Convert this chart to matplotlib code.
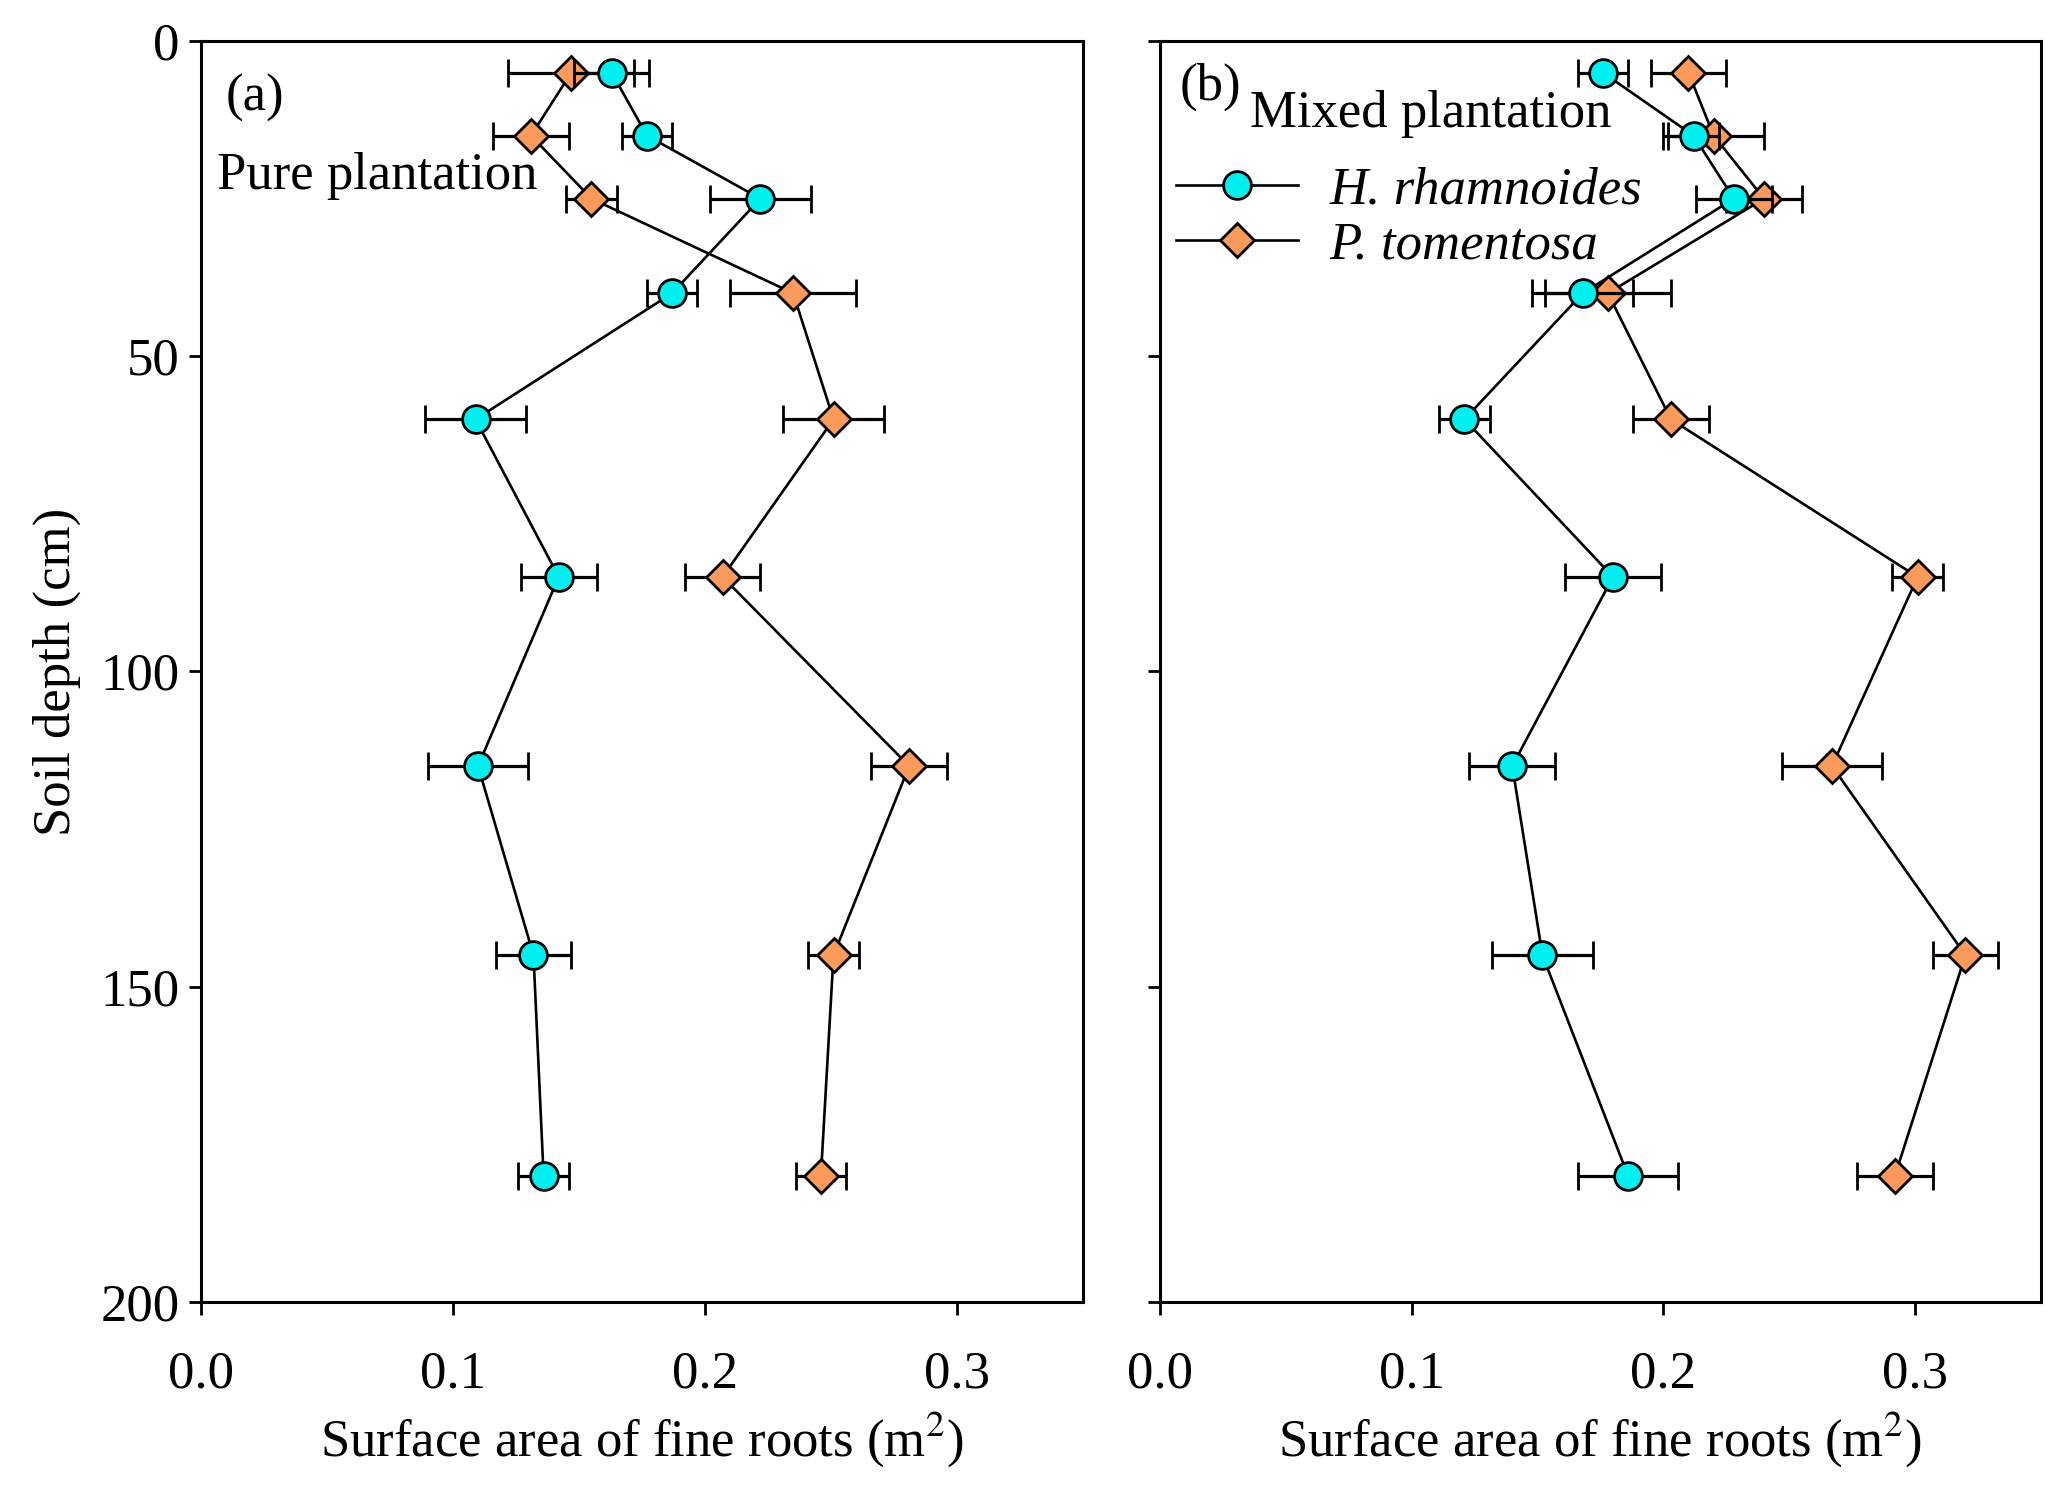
import numpy as np
import matplotlib
matplotlib.use('Agg')
import matplotlib.pyplot as plt
from matplotlib.lines import Line2D

plt.rcParams['font.family'] = ['Liberation Serif', 'DejaVu Serif']
plt.rcParams['mathtext.fontset'] = 'stix'

# soil depth of each sampling layer (cm)
depth = [5, 15, 25, 40, 60, 85, 115, 145, 180]

# (a) pure plantation
pure_hr = [0.163, 0.177, 0.222, 0.187, 0.109, 0.142, 0.110, 0.132, 0.136]
pure_hr_err = [0.015, 0.010, 0.020, 0.010, 0.020, 0.015, 0.020, 0.015, 0.010]
pure_pt = [0.147, 0.131, 0.155, 0.235, 0.251, 0.207, 0.281, 0.251, 0.246]
pure_pt_err = [0.025, 0.015, 0.010, 0.025, 0.020, 0.015, 0.015, 0.010, 0.010]

# (b) mixed plantation
mixed_hr = [0.176, 0.212, 0.228, 0.168, 0.121, 0.180, 0.140, 0.152, 0.186]
mixed_hr_err = [0.010, 0.010, 0.015, 0.020, 0.010, 0.019, 0.017, 0.020, 0.020]
mixed_pt = [0.210, 0.220, 0.240, 0.178, 0.203, 0.301, 0.267, 0.320, 0.292]
mixed_pt_err = [0.015, 0.020, 0.015, 0.025, 0.015, 0.010, 0.020, 0.013, 0.015]

HR_COLOR = '#00F0F0'
PT_COLOR = '#FB9A5A'
FS = 38


def draw_panel(ax, hr, hr_err, pt, pt_err):
    ax.errorbar(pt, depth, xerr=pt_err, color='black', lw=1.9, ecolor='black',
                elinewidth=2.3, capsize=10, capthick=2.3, marker='D', ms=17,
                mfc=PT_COLOR, mec='black', mew=2.0, zorder=3)
    ax.errorbar(hr, depth, xerr=hr_err, color='black', lw=1.9, ecolor='black',
                elinewidth=2.3, capsize=10, capthick=2.3, marker='o', ms=20,
                mfc=HR_COLOR, mec='black', mew=2.0, zorder=4)
    ax.set_xlim(0, 0.35)
    ax.set_ylim(200, 0)
    ax.set_xticks([0.0, 0.1, 0.2, 0.3])
    ax.set_xticklabels(['0.0', '0.1', '0.2', '0.3'])
    ax.set_yticks([0, 50, 100, 150, 200])
    ax.tick_params(axis='both', direction='out', length=9, width=2.0,
                   labelsize=FS)
    ax.tick_params(axis='x', pad=26)
    ax.tick_params(axis='y', pad=6)
    for s in ax.spines.values():
        s.set_linewidth(2.2)
    ax.set_xlabel('Surface area of fine roots (m$^2$)', fontsize=FS, labelpad=8)


fig = plt.figure(figsize=(20.67, 14.93), dpi=100)
ax1 = fig.add_axes([0.0971, 0.128, 0.4269, 0.8445])
ax2 = fig.add_axes([0.5611, 0.128, 0.4263, 0.8445])

draw_panel(ax1, pure_hr, pure_hr_err, pure_pt, pure_pt_err)
draw_panel(ax2, mixed_hr, mixed_hr_err, mixed_pt, mixed_pt_err)

ax1.set_ylabel('Soil depth (cm)', fontsize=FS, labelpad=14)
ax2.set_yticklabels([])

ax1.text(0.028, 0.955, '(a)', transform=ax1.transAxes, fontsize=FS,
         ha='left', va='center')
ax1.text(0.018, 0.893, 'Pure plantation', transform=ax1.transAxes,
         fontsize=FS, ha='left', va='center')
ax2.text(0.022, 0.964, '(b)', transform=ax2.transAxes, fontsize=FS,
         ha='left', va='center')
ax2.text(0.102, 0.942, 'Mixed plantation', transform=ax2.transAxes,
         fontsize=FS, ha='left', va='center')

handles = [
    Line2D([], [], color='black', lw=1.9, marker='o', ms=20,
           mfc=HR_COLOR, mec='black', mew=2.0),
    Line2D([], [], color='black', lw=1.9, marker='D', ms=17,
           mfc=PT_COLOR, mec='black', mew=2.0),
]
leg = ax2.legend(handles, ['H. rhamnoides', 'P. tomentosa'],
                 loc='upper left', bbox_to_anchor=(-0.005, 0.917),
                 frameon=False, handlelength=2.3, handletextpad=0.6,
                 labelspacing=0.12, borderaxespad=0,
                 prop={'size': FS, 'style': 'italic'})

fig.savefig('out.png', dpi=100)
